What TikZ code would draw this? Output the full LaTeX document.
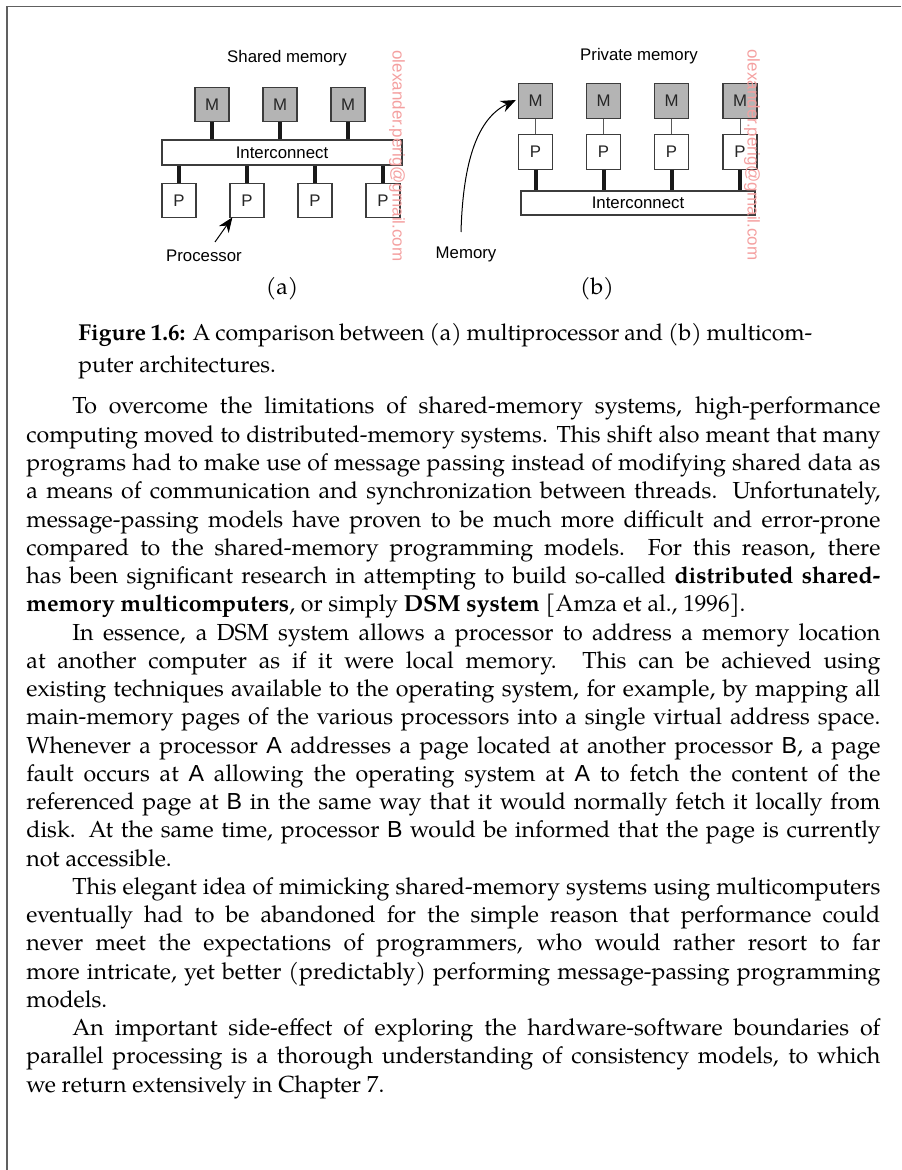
\documentclass[tikz,border=0pt]{standalone}
\usepackage{fontspec}
\setmainfont{TeX Gyre Pagella}
\setsansfont{Liberation Sans}
\usetikzlibrary{arrows.meta}
\definecolor{boxline}{HTML}{3C3C3C}
\definecolor{memfill}{HTML}{B4B4B4}
\definecolor{wmark}{HTML}{F4A0A0}
\definecolor{framecol}{HTML}{606060}
\newcommand\jl[1]{\hbox to\linewidth{#1}}
\newcommand\lastl[1]{\hbox{#1}}
\begin{document}
\begin{tikzpicture}[x=0.5pt,y=-0.5pt,
  box/.style={draw=boxline, line width=0.6pt, minimum width=17pt, minimum height=17.25pt, inner sep=0pt, font=\fontsize{8.4}{10}\sffamily, text=black!85},
  mem/.style={box, fill=memfill},
  proc/.style={box, fill=white},
  bus/.style={draw=boxline, line width=0.6pt, fill=white, inner sep=0pt, font=\fontsize{8.4}{10}\sffamily},
  thicklink/.style={line width=2pt, draw=black!90},
  thinlink/.style={line width=0.5pt, draw=black!65},
  lbl/.style={font=\fontsize{8.4}{10}\sffamily, inner sep=0pt, anchor=base},
  wm/.style={font=\fontsize{8.5}{10}\sffamily, text=wmark, rotate=-90, inner sep=0pt},
  sub/.style={font=\fontsize{11.5}{14}\selectfont, inner sep=0pt, anchor=base},
  ptr/.style={line width=0.5pt, -{Stealth[length=7.5pt,width=6pt]}}
]
\useasboundingbox (0,0) rectangle (901,1170);
% frame
\draw[framecol, line width=0.7pt] (7,1170) -- (7,6.5) -- (901,6.5);

% ---------- (a) shared memory ----------
\node[lbl] (tsh) at (287,63) {Shared memory};
\node[mem] (ma1) at (212,104.5) {M};
\node[mem] (ma2) at (280,104.5) {M};
\node[mem] (ma3) at (348,104.5) {M};
\node[bus, minimum width=120pt, minimum height=12.5pt] (ica) at (282,152.5) {Interconnect};
\node[proc] (pa1) at (179,200.5) {P};
\node[proc] (pa2) at (247,200.5) {P};
\node[proc] (pa3) at (315,200.5) {P};
\node[proc] (pa4) at (383,200.5) {P};
\foreach \m in {ma1,ma2,ma3} \draw[thicklink] (\m.south) -- (\m.south |- ica.north);
\foreach \p in {pa1,pa2,pa3,pa4} \draw[thicklink] (\p.north) -- (\p.north |- ica.south);
\node[lbl] (tproc) at (204,262) {Processor};
\coordinate (procfrom) at (215,242);
\draw[ptr] (procfrom) -- ([shift={(1.5pt,0.5pt)}]pa2.south west);
\node[sub] (suba) at (282,295) {(a)};

% ---------- (b) private memory ----------
\node[lbl] (tpr) at (639,61) {Private memory};
\node[mem] (mb1) at (535.5,101) {M};
\node[mem] (mb2) at (603.5,101) {M};
\node[mem] (mb3) at (671.5,101) {M};
\node[mem] (mb4) at (740,101) {M};
\node[proc] (pb1) at (535.5,152) {P};
\node[proc] (pb2) at (603.5,152) {P};
\node[proc] (pb3) at (671.5,152) {P};
\node[proc] (pb4) at (740,152) {P};
\node[bus, minimum width=117pt, minimum height=12pt] (icb) at (638,203) {Interconnect};
\foreach \i in {1,2,3,4} {
  \draw[thinlink] (mb\i.south) -- (pb\i.north);
  \draw[thicklink] (pb\i.south) -- (pb\i.south |- icb.north);
}
\node[lbl] (tmem) at (466,259) {Memory};
\coordinate (memfrom) at (461,232);
\draw[ptr] (memfrom) .. controls (463,160) and (478,118) .. ([shift={(-1pt,0.5pt)}]mb1.west);
\node[sub] (subb) at (597,295) {(b)};

% watermarks
\node[wm] (wma) at (397,156) {olexander.perig@gmail.com};
\node[wm] (wmb) at (752,155) {olexander.perig@gmail.com};

% ---------- caption ----------
\node[anchor=base west, inner sep=0pt] (cap) at (78,341) {\parbox[t]{367pt}{\fontsize{11.5}{16}\selectfont
\jl{\textbf{Figure 1.6:} A comparison between (a) multiprocessor and (b) multicom-}
\lastl{puter architectures.}}};

% ---------- body text ----------
\node[anchor=base west, inner sep=0pt] (body) at (26,414) {\parbox[t]{427pt}{\fontsize{11.6}{14.125}\selectfont
\jl{\hskip23pt To overcome the limitations of shared-memory systems, high-performance}
\jl{computing moved to distributed-memory systems. This shift also meant that many}
\jl{programs had to make use of message passing instead of modifying shared data as}
\jl{a means of communication and synchronization between threads. Unfortunately,}
\jl{message-passing models have proven to be much more difficult and error-prone}
\jl{compared to the shared-memory programming models. For this reason, there}
\jl{has been significant research in attempting to build so-called \textbf{distributed shared-}}
\lastl{\textbf{memory multicomputers}, or simply \textbf{DSM system} [Amza et al., 1996].}
\jl{\hskip23pt In essence, a DSM system allows a processor to address a memory location}
\jl{at another computer as if it were local memory. This can be achieved using}
\jl{existing techniques available to the operating system, for example, by mapping all}
\jl{main-memory pages of the various processors into a single virtual address space.}
\jl{Whenever a processor \textsf{A} addresses a page located at another processor \textsf{B}, a page}
\jl{fault occurs at \textsf{A} allowing the operating system at \textsf{A} to fetch the content of the}
\jl{referenced page at \textsf{B} in the same way that it would normally fetch it locally from}
\jl{disk. At the same time, processor \textsf{B} would be informed that the page is currently}
\lastl{not accessible.}
\jl{\hskip23pt This elegant idea of mimicking shared-memory systems using multicomputers}
\jl{eventually had to be abandoned for the simple reason that performance could}
\jl{never meet the expectations of programmers, who would rather resort to far}
\jl{more intricate, yet better (predictably) performing message-passing programming}
\lastl{models.}
\jl{\hskip23pt An important side-effect of exploring the hardware-software boundaries of}
\jl{parallel processing is a thorough understanding of consistency models, to which}
\lastl{we return extensively in Chapter 7.}}};
\end{tikzpicture}
\end{document}
